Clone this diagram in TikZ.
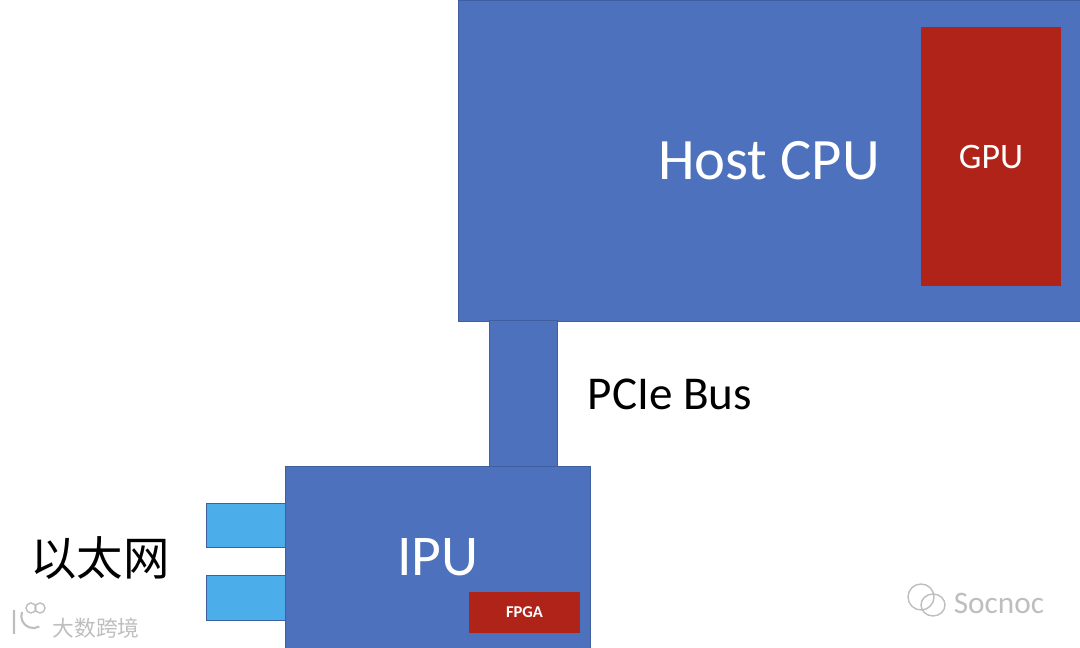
\documentclass[tikz,border=0pt]{standalone}
\usepackage{fontspec}
\setmainfont{Carlito}
\newfontfamily\cjk{Noto Sans CJK SC}
\definecolor{boxblue}{HTML}{4D71BC}
\definecolor{boxedge}{HTML}{3F5F9F}
\definecolor{chipred}{HTML}{B02318}
\definecolor{portblue}{HTML}{4BADE9}
\definecolor{markgray}{HTML}{BEBEBE}
\tikzset{
  block/.style={draw=boxedge, line width=0.2pt, fill=boxblue, text=white, inner sep=0pt},
  chip/.style={fill=chipred, text=white, inner sep=0pt},
  port/.style={draw=boxedge, line width=0.2pt, fill=portblue, inner sep=0pt, minimum width=0.79cm},
  watermark/.style={text=markgray, inner sep=0pt}
}
\begin{document}
\begin{tikzpicture}
    \useasboundingbox (0,0) rectangle (10.8,6.48);

    \node[block, minimum width=6.22cm, minimum height=3.21cm, font=\fontsize{16.7}{18}\selectfont] (host) at (7.69,4.87) {Host CPU};
    \node[chip, minimum width=1.40cm, minimum height=2.59cm, font=\fontsize{10.2}{11}\selectfont] (gpu) at (9.91,4.91) {GPU};

    \node[port, minimum height=0.44cm] (port1) at (2.46,1.23) {};
    \node[port, minimum height=0.45cm] (port2) at (2.46,0.505) {};

    \node[block, minimum width=0.68cm, minimum height=1.46cm] (bus) at (5.23,2.55) {};
    \node[block, minimum width=3.05cm, minimum height=1.83cm, font=\fontsize{16.4}{18}\selectfont] (ipu) at (4.38,0.905) {IPU};
    \node[chip, minimum width=1.11cm, minimum height=0.41cm, font=\bfseries\fontsize{4.7}{6}\selectfont] (fpga) at (5.245,0.355) {FPGA};

    \node[font=\fontsize{13.4}{15}\selectfont] (buslabel) at (6.70,2.54) {PCIe Bus};
    \node[font=\cjk\fontsize{13.2}{15}\selectfont] (ethlabel) at (1.00,0.90) {以太网};

    % watermarks
    \node[watermark, font=\cjk\fontsize{6.2}{7}\selectfont] (mark1) at (0.96,0.20) {大数跨境};
    \draw[markgray, line width=0.6pt] (0.14,0.38) -- (0.14,0.14) (0.22,0.36) arc (160:300:0.12);
    \draw[markgray, line width=0.4pt] (0.31,0.40) circle (0.05) (0.40,0.40) circle (0.05);
    \node[watermark, font=\fontsize{8.9}{10}\selectfont] (mark2) at (9.99,0.45) {Socnoc};
    \draw[markgray, line width=0.4pt] (9.21,0.51) circle (0.13) (9.33,0.43) ellipse (0.12 and 0.11);
\end{tikzpicture}
\end{document}
